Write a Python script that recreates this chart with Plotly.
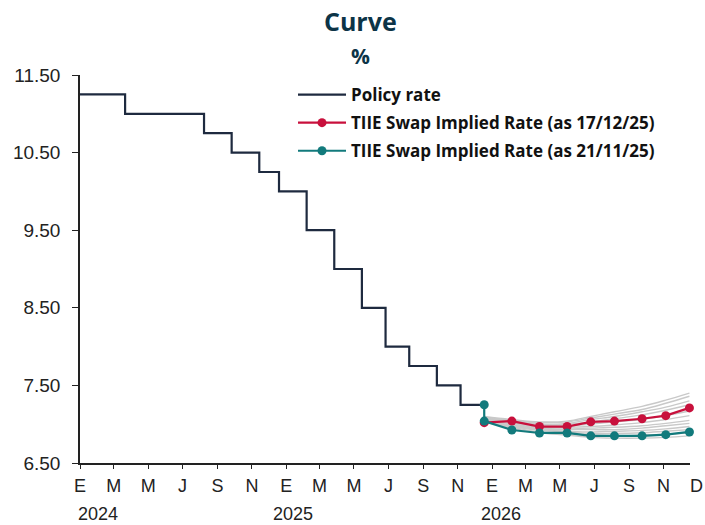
import plotly.graph_objects as go

# ---------------- data ----------------
policy_dates = ["2024-01-01", "2024-03-21", "2024-08-08", "2024-09-26", "2024-11-14",
                "2024-12-19", "2025-02-06", "2025-03-27", "2025-05-15", "2025-06-26",
                "2025-08-07", "2025-09-25", "2025-11-06", "2025-12-18"]
policy_rate = [11.25, 11.00, 10.75, 10.50, 10.25, 10.00, 9.50, 9.00, 8.50, 8.00,
               7.75, 7.50, 7.25, 7.25]

swap_dates = ["2025-12-18", "2026-02-05", "2026-03-26", "2026-05-14", "2026-06-25",
              "2026-08-06", "2026-09-24", "2026-11-05", "2026-12-17"]
swap_171225 = [7.02, 7.04, 6.97, 6.97, 7.03, 7.04, 7.07, 7.11, 7.21]

swap_211125_dates = ["2025-12-18"] + swap_dates
swap_211125 = [7.25, 7.04, 6.925, 6.887, 6.887, 6.85, 6.85, 6.85, 6.865, 6.90]

gray_curves = [
    [7.10, 7.06, 7.03, 7.04, 7.10, 7.16, 7.23, 7.31, 7.40],
    [7.09, 7.05, 7.02, 7.03, 7.08, 7.13, 7.19, 7.27, 7.36],
    [7.08, 7.04, 7.00, 7.01, 7.06, 7.10, 7.16, 7.22, 7.30],
    [7.08, 7.03, 6.99, 7.00, 7.03, 7.07, 7.12, 7.18, 7.25],
    [7.07, 7.02, 6.98, 6.98, 7.00, 7.03, 7.06, 7.11, 7.17],
    [7.06, 7.01, 6.96, 6.96, 6.97, 6.99, 7.02, 7.06, 7.11],
    [7.06, 7.00, 6.95, 6.94, 6.95, 6.96, 6.98, 7.01, 7.05],
    [7.05, 6.99, 6.94, 6.93, 6.93, 6.93, 6.95, 6.98, 7.01],
    [7.05, 6.98, 6.93, 6.91, 6.90, 6.91, 6.92, 6.94, 6.97],
    [7.04, 6.97, 6.92, 6.90, 6.88, 6.88, 6.89, 6.91, 6.93],
    [7.04, 6.96, 6.90, 6.88, 6.86, 6.85, 6.86, 6.87, 6.89],
    [7.03, 6.95, 6.89, 6.86, 6.83, 6.82, 6.82, 6.83, 6.85],
]

month_tickvals = ["2024-01-01", "2024-03-01", "2024-05-01", "2024-07-01", "2024-09-01", "2024-11-01",
                  "2025-01-01", "2025-03-01", "2025-05-01", "2025-07-01", "2025-09-01", "2025-11-01",
                  "2026-01-01", "2026-03-01", "2026-05-01", "2026-07-01", "2026-09-01", "2026-11-01"]
month_ticktext = ["E", "M", "M", "J", "S", "N", "E", "M", "M", "J", "S", "N",
                  "E", "M", "M", "J", "S", "N"]
last_month_label = "D"
year_labels = ["2024", "2025", "2026"]
y_tickvals = [6.5, 7.5, 8.5, 9.5, 10.5, 11.5]

# ---------------- styling ----------------
NAVY = "#1e2a3f"
RED = "#c8103c"
TEAL = "#127a7c"
GRAY = "#c9c9c9"
TITLE_C = "#0c3447"
TXT = "#222222"

W, H = 705, 525
PL, PR, PT, PB = 80, 690, 75, 463   # plot area in page pixels
L, T, R, B = PL, PT, W - PR, H - PB

def px_x(px):
    return (px - PL) / (PR - PL)

def px_y(py):
    return 1 - (py - PT) / (PB - PT)

fig = go.Figure()

for g in gray_curves:
    fig.add_trace(go.Scatter(x=swap_dates, y=g, mode="lines", line=dict(color=GRAY, width=1.4, shape="spline"),
                             showlegend=False, hoverinfo="skip"))

fig.add_trace(go.Scatter(x=policy_dates, y=policy_rate, mode="lines", name="Policy rate",
                         line=dict(color=NAVY, width=2.2, shape="hv"), legendgroup="a"))
fig.add_trace(go.Scatter(x=swap_dates, y=swap_171225, mode="lines+markers",
                         name="TIIE Swap Implied Rate (as 17/12/25)",
                         line=dict(color=RED, width=2.2), marker=dict(color=RED, size=9),
                         cliponaxis=False, legendgroup="b"))
fig.add_trace(go.Scatter(x=swap_211125_dates, y=swap_211125, mode="lines+markers",
                         name="TIIE Swap Implied Rate (as 21/11/25)",
                         line=dict(color=TEAL, width=2.2), marker=dict(color=TEAL, size=9),
                         cliponaxis=False, legendgroup="c"))

def ann(text, xp, yp, size, family="Liberation Sans", color=TXT):
    return dict(text=text, x=px_x(xp), y=px_y(yp), xref="paper", yref="paper",
                xanchor="center", yanchor="middle", showarrow=False,
                font=dict(family=family, size=size, color=color))

annotations = [
    ann("<b>Curve</b>", 360, 21, 25, "Open Sans", TITLE_C),
    ann("<b>%</b>", 360, 56, 21, "Open Sans", TITLE_C),
    ann(last_month_label, 696, 486, 18),
]
for lab, xp in zip(year_labels, [98, 293, 501]):
    annotations.append(ann(lab, xp, 514, 18))

fig.update_layout(
    width=W, height=H,
    margin=dict(l=L, r=R, t=T, b=B, autoexpand=False),
    paper_bgcolor="white", plot_bgcolor="white",
    showlegend=True,
    legend=dict(x=px_x(293), y=px_y(77), xanchor="left", yanchor="top",
                font=dict(family="Open Sans", size=17, color="#111111", weight="bold"),
                bgcolor="rgba(0,0,0,0)", itemwidth=48, tracegroupgap=3, traceorder="grouped"),
    annotations=annotations,
)
fig.update_xaxes(
    type="date", range=["2024-01-01", "2026-12-18"],
    tickvals=month_tickvals, ticktext=month_ticktext,
    showgrid=False, zeroline=False,
    showline=True, linecolor=TXT, linewidth=1.5,
    ticks="outside", ticklen=4, tickcolor=TXT, tickwidth=1.2,
    ticklabelstandoff=2,
    tickfont=dict(family="Liberation Sans", size=18, color=TXT),
)
fig.update_yaxes(
    range=[6.5, 11.5], tickvals=y_tickvals, ticktext=[f"{v:.2f}" for v in y_tickvals],
    showgrid=False, zeroline=False,
    showline=True, linecolor=TXT, linewidth=1.5,
    ticks="outside", ticklen=6, tickcolor=TXT, tickwidth=1.2,
    ticklabelstandoff=8,
    tickfont=dict(family="Liberation Sans", size=19, color=TXT),
)

fig.write_html("out.html", config={"displayModeBar": False},
               post_script="document.body.style.margin='0';")
